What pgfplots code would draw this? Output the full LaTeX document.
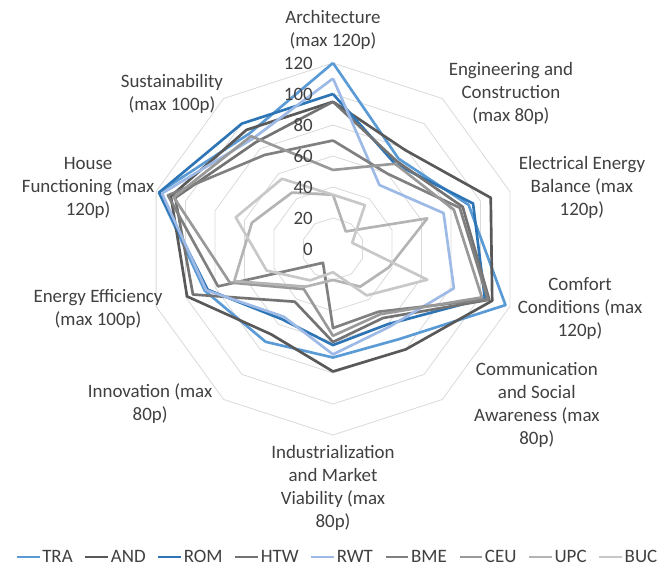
\documentclass[border=0pt]{standalone}
\usepackage{pgfplots}
\usepackage{pgfplotstable}
\pgfplotsset{compat=1.18}
\usepackage{fontspec}
\setmainfont{Carlito}
\definecolor{txt}{HTML}{404040}
\definecolor{ring}{HTML}{D9D9D9}
\definecolor{cTRA}{HTML}{5B9BD5}
\definecolor{cAND}{HTML}{595959}
\definecolor{cROM}{HTML}{2E75B6}
\definecolor{cHTW}{HTML}{737373}
\definecolor{cRWT}{HTML}{9DB9E6}
\definecolor{cBME}{HTML}{808080}
\definecolor{cCEU}{HTML}{999999}
\definecolor{cUPC}{HTML}{B4B4B4}
\definecolor{cBUC}{HTML}{C8C8C8}
% rows: Architecture, Engineering, Electrical, Comfort, Communication,
% Industrialization, Innovation, Energy Eff., House Functioning, Sustainability (closed)
\pgfplotstableread{
ang TRA AND ROM HTW RWT BME CEU UPC BUC
0   120 95  100 95  110 70  51  35  35
36  72  79  68  70  51  60  68  14  35
72  92  107 95  88  75  86  82  64  13
108 117 108 103 106 82  105 101 38  64
144 72  80  60  55  62  50  52  30  37
180 70  79  62  60  68  51  56  20  15
216 74  68  56  42  54  11  32  30  25
252 87  99  85  95  86  78  70  67  45
288 118 110 118 107 116 112 108 55  66
324 92  95  100 85  88  75  90  45  56
360 120 95  100 95  110 70  51  35  35
}\data
\begin{document}
\begin{tikzpicture}
\begin{axis}[
  x=1.1625pt, y=1.1625pt,
  xmin=-214.84, xmax=214.84, ymin=-207.74, ymax=160.65,
  hide axis, clip=false,
  font=\fontsize{14.2}{17.25}\selectfont,
  legend columns=9,
  legend style={at={(axis cs:2.6,-198.7)}, anchor=center, draw=none, fill=none,
    font=\fontsize{14.2}{17}\selectfont, text=txt,
    nodes={inner xsep=1pt, inner ysep=1pt},
    /tikz/every even column/.append style={column sep=7.5pt},
    /tikz/every odd column/.append style={column sep=0pt}},
  legend image code/.code={\draw[#1, line width=2.1pt] (0pt,0pt) -- (17pt,0pt);},
  every axis plot/.append style={line width=2pt, line join=round},
]
\pgfplotsinvokeforeach{20,40,60,80,100,120}{
  \addplot[ring, line width=0.6pt, forget plot] table[x expr={#1*sin(\thisrow{ang})}, y expr={#1*cos(\thisrow{ang})}]{\data};
}
\addplot[cTRA] table[x expr={\thisrow{TRA}*sin(\thisrow{ang})}, y expr={\thisrow{TRA}*cos(\thisrow{ang})}]{\data};
\addlegendentry{TRA}
\addplot[cAND] table[x expr={\thisrow{AND}*sin(\thisrow{ang})}, y expr={\thisrow{AND}*cos(\thisrow{ang})}]{\data};
\addlegendentry{AND}
\addplot[cROM] table[x expr={\thisrow{ROM}*sin(\thisrow{ang})}, y expr={\thisrow{ROM}*cos(\thisrow{ang})}]{\data};
\addlegendentry{ROM}
\addplot[cHTW] table[x expr={\thisrow{HTW}*sin(\thisrow{ang})}, y expr={\thisrow{HTW}*cos(\thisrow{ang})}]{\data};
\addlegendentry{HTW}
\addplot[cRWT] table[x expr={\thisrow{RWT}*sin(\thisrow{ang})}, y expr={\thisrow{RWT}*cos(\thisrow{ang})}]{\data};
\addlegendentry{RWT}
\addplot[cBME] table[x expr={\thisrow{BME}*sin(\thisrow{ang})}, y expr={\thisrow{BME}*cos(\thisrow{ang})}]{\data};
\addlegendentry{BME}
\addplot[cCEU] table[x expr={\thisrow{CEU}*sin(\thisrow{ang})}, y expr={\thisrow{CEU}*cos(\thisrow{ang})}]{\data};
\addlegendentry{CEU}
\addplot[cUPC] table[x expr={\thisrow{UPC}*sin(\thisrow{ang})}, y expr={\thisrow{UPC}*cos(\thisrow{ang})}]{\data};
\addlegendentry{UPC}
\addplot[cBUC] table[x expr={\thisrow{BUC}*sin(\thisrow{ang})}, y expr={\thisrow{BUC}*cos(\thisrow{ang})}]{\data};
\addlegendentry{BUC}
% value labels
\pgfplotsinvokeforeach{0,20,40,60,80,100,120}{
  \node[anchor=east, inner sep=0pt, text=txt] at (axis cs:-12.9,#1) {#1};
}
% category labels
\node[align=center, inner sep=0pt, text=txt] at (axis cs:0,141.3) {Architecture\\(max 120p)};
\node[align=center, inner sep=0pt, text=txt] at (axis cs:114.8,100.6) {Engineering and\\Construction\\(max 80p)};
\node[align=center, inner sep=0pt, text=txt] at (axis cs:160.6,39.4) {Electrical Energy\\Balance (max\\120p)};
\node[align=center, inner sep=0pt, text=txt] at (axis cs:159.4,-38.1) {Comfort\\Conditions (max\\120p)};
\node[align=center, inner sep=0pt, text=txt] at (axis cs:131.5,-100.6) {Communication\\and Social\\Awareness (max\\80p)};
\node[align=center, inner sep=0pt, text=txt] at (axis cs:0,-154.2) {Industrialization\\and Market\\Viability (max\\80p)};
\node[align=center, inner sep=0pt, text=txt] at (axis cs:-118,-99.7) {Innovation (max\\80p)};
\node[align=center, inner sep=0pt, text=txt] at (axis cs:-151.6,-38.4) {Energy Efficiency\\(max 100p)};
\node[align=center, inner sep=0pt, text=txt] at (axis cs:-158,39.4) {House\\Functioning (max\\120p)};
\node[align=center, inner sep=0pt, text=txt] at (axis cs:-103.9,100.3) {Sustainability\\(max 100p)};
\path (rel axis cs:0,0) rectangle (rel axis cs:1,1);
\end{axis}
\end{tikzpicture}
\end{document}
